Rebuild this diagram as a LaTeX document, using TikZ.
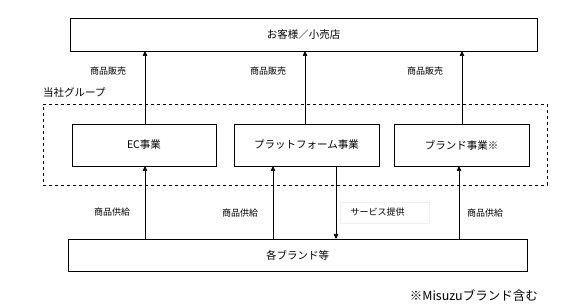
\documentclass[tikz,border=0pt]{standalone}
\usepackage{fontspec}
\setmainfont{Noto Sans CJK JP}
\usetikzlibrary{arrows.meta}
\begin{document}
\begin{tikzpicture}[x=1pt,y=-1pt,
  box/.style={draw,line width=0.7pt,inner sep=0pt},
  lbl/.style={font=\fontsize{9}{10}\selectfont,inner sep=0pt},
  boxtxt/.style={font=\fontsize{10.5}{12}\selectfont},
  arr/.style={line width=0.7pt,-{Triangle[length=5pt,width=4.5pt]}}]
\useasboundingbox (0,0) rectangle (567,304);
% top box
\node[box,minimum width=467pt,minimum height=33pt,boxtxt] (top) at (303.5,34.5) {お客様／小売店};
% group label and dashed frame
\node[anchor=west,font=\fontsize{10.5}{12}\selectfont,inner sep=0pt] (grp) at (43,93) {当社グループ};
\node[draw,dashed,line width=0.6pt,minimum width=504pt,minimum height=81pt,inner sep=0pt] (frame) at (295,144.5) {};
% business boxes
\node[box,minimum width=144pt,minimum height=42pt,boxtxt] (ec) at (144,145) {EC事業};
\node[box,minimum width=145pt,minimum height=42pt,boxtxt] (pf) at (306.5,145) {プラットフォーム事業};
\node[box,minimum width=135pt,minimum height=42pt,boxtxt] (br) at (461.5,145) {ブランド事業※};
% bottom box
\node[box,minimum width=459pt,minimum height=32pt,boxtxt] (bot) at (297.5,255) {各ブランド等};
% coordinates on boxes
\coordinate (t1) at (145,51); \coordinate (t2) at (305,51); \coordinate (t3) at (462,51);
\coordinate (e1) at (145,124); \coordinate (p1) at (305,124); \coordinate (b1) at (462,124);
\coordinate (e2) at (145,166); \coordinate (p2) at (273,166); \coordinate (p3) at (336,166); \coordinate (b2) at (459,166);
\coordinate (g1) at (145,239); \coordinate (g2) at (273,239); \coordinate (g3) at (336,239); \coordinate (g4) at (459,239);
% arrows up to customers
\draw[arr] (e1) -- (t1);
\draw[arr] (p1) -- (t2);
\draw[arr] (b1) -- (t3);
% arrows from brands
\draw[arr] (g1) -- (e2);
\draw[arr] (g2) -- (p2);
\draw[arr] (p3) -- (g3);
\draw[arr] (g4) -- (b2);
% labels
\node[lbl] (s1) at (108,71) {商品販売};
\node[lbl] (s2) at (268,71) {商品販売};
\node[lbl] (s3) at (425,71) {商品販売};
\node[lbl] (q1) at (112,212) {商品供給};
\node[lbl] (q2) at (240,213) {商品供給};
\node[lbl,draw=black!6,minimum width=89pt,minimum height=21pt] (sv) at (384.5,212.5) {\hspace*{-14pt}サービス提供};
\node[lbl] (q4) at (485,213) {商品供給};
% footnote
\node[anchor=east,font=\fontsize{12.5}{14}\selectfont,inner sep=0pt] (fn) at (538,296) {※Misuzuブランド含む};
\end{tikzpicture}
\end{document}
